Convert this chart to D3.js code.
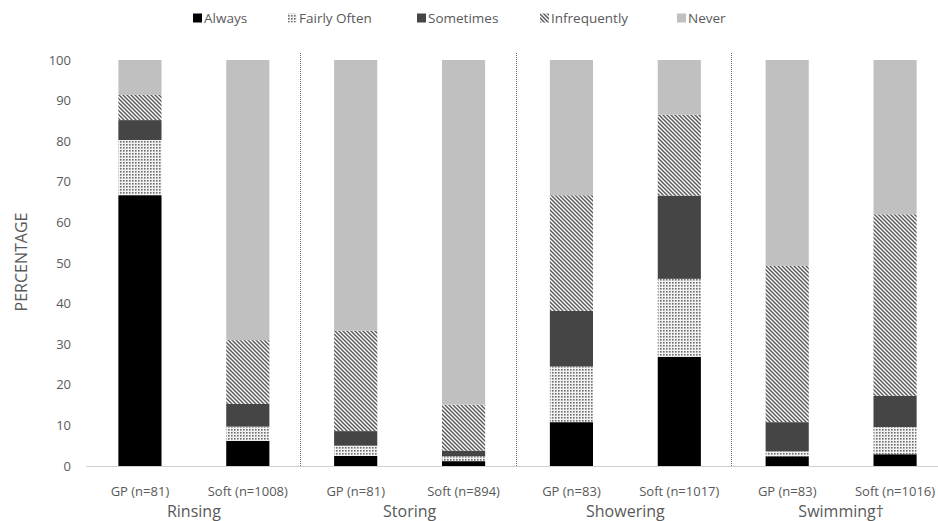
<!DOCTYPE html>
<html><head><meta charset="utf-8">
<script src="https://cdn.jsdelivr.net/npm/d3@7"></script>
<style>body{margin:0;background:#fff}svg{display:block}text{font-family:"Open Sans",sans-serif;fill:#595959}</style>
</head><body><svg id="c" width="938" height="521"></svg>
<script>
const bars = ["GP  (n=81)","Soft (n=1008)","GP (n=81)","Soft (n=894)","GP (n=83)","Soft (n=1017)","GP (n=83)","Soft (n=1016)"];
const groups = ["Rinsing","Storing","Showering","Swimming†"];
const seriesNames = ["Always","Fairly Often","Sometimes","Infrequently","Never"];
const always       = [66.7, 6.2, 2.5, 1.2, 10.8, 26.9, 2.4, 2.9];
const fairlyOften  = [13.6, 3.5, 2.5, 1.2, 13.7, 19.2, 1.2, 6.7];
const sometimes    = [4.9, 5.6, 3.6, 1.4, 13.7, 20.5, 7.2, 7.7];
const infrequently = [6.2, 15.7, 24.7, 11.3, 28.5, 19.9, 38.5, 44.7];
const never        = [8.6, 69.0, 66.7, 84.9, 33.3, 13.5, 50.7, 38.0];
const yTicks = [0,10,20,30,40,50,60,70,80,90,100];

const svg = d3.select("#c");
const defs = svg.append("defs");
const pd = defs.append("pattern").attr("id","dots").attr("patternUnits","userSpaceOnUse").attr("width",3).attr("height",3);
pd.append("rect").attr("width",3).attr("height",3).attr("fill","#f2f2f2");
pd.append("rect").attr("width",1.6).attr("height",1.6).attr("fill","#6e6e6e");
const ps = defs.append("pattern").attr("id","stripes").attr("patternUnits","userSpaceOnUse").attr("width",4).attr("height",4);
ps.append("rect").attr("width",4).attr("height",4).attr("fill","#ffffff");
ps.append("path").attr("d","M-1,-1L5,5M-1,3L1,5M3,-1L5,1").attr("stroke","#5a5a5a").attr("stroke-width",1.5);

const fills = ["#000000","url(#dots)","#454545","url(#stripes)","#c0c0c0"];
const seriesVals = [always, fairlyOften, sometimes, infrequently, never];

const idx = d3.range(bars.length);
const x = d3.scaleBand().domain(idx).range([86,949]).paddingInner(0.6).paddingOuter(0.3);
const y = d3.scaleLinear().domain([0,100]).range([466,60]);
const cx = i => x(i)+x.bandwidth()/2;

// y tick labels
svg.append("g").selectAll("text").data(yTicks).join("text")
  .attr("x",71).attr("y",d=>y(d)).attr("dy","0.35em").attr("text-anchor","end")
  .attr("font-size",13).text(d=>d);

// stacked
const rows = idx.map(i=>{const o={i:i}; seriesNames.forEach((s,k)=>o[s]=seriesVals[k][i]); return o;});
const stack = d3.stack().keys(seriesNames)(rows);
svg.append("g").selectAll("g").data(stack).join("g")
  .attr("fill",(d,i)=>fills[i])
  .selectAll("rect").data(d=>d).join("rect")
  .attr("x",d=>x(d.data.i)).attr("width",x.bandwidth())
  .attr("y",d=>y(d[1])).attr("height",d=>y(d[0])-y(d[1]));

// baseline
svg.append("line").attr("x1",86).attr("x2",938).attr("y1",y(0)+0.5).attr("y2",y(0)+0.5).attr("stroke","#d0d0d0").attr("stroke-width",1);

// dividers
for(let g=1; g<groups.length; g++){
  const mx = Math.round((cx(2*g-1)+cx(2*g))/2 - 2)+0.5;
  svg.append("line").attr("x1",mx).attr("x2",mx).attr("y1",53).attr("y2",467)
    .attr("stroke","#666").attr("stroke-width",1).attr("stroke-dasharray","1,1");
}

// x labels
svg.append("g").selectAll("text").data(idx).join("text")
  .attr("x",i=>cx(i)).attr("y",491).attr("dy","0.35em").attr("text-anchor","middle")
  .attr("font-size",13).text(i=>bars[i]);
svg.append("g").selectAll("text").data(groups).join("text")
  .attr("x",(d,g)=>(cx(2*g)+cx(2*g+1))/2).attr("y",511).attr("dy","0.35em").attr("text-anchor","middle")
  .attr("font-size",16).text(d=>d);

// y title
svg.append("text").attr("transform","translate(21,262) rotate(-90)").attr("text-anchor","middle").attr("dy","0.35em")
  .attr("font-size",16).text("PERCENTAGE");

// legend
const legX = [193,288,417,540,677];
const lg = svg.append("g").selectAll("g").data(seriesNames).join("g")
  .attr("transform",(d,i)=>`translate(${legX[i]},18)`);
lg.append("rect").attr("x",0).attr("y",-4.5).attr("width",9).attr("height",9).attr("fill",(d,i)=>fills[i]);
lg.append("text").attr("x",11).attr("dy","0.35em").attr("font-size",13.5).text(d=>d);
</script></body></html>
